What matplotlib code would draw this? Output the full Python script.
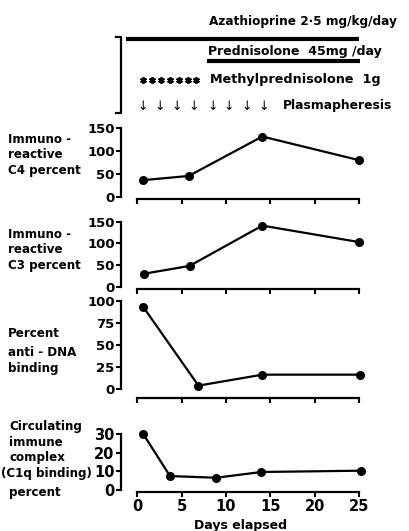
import matplotlib
matplotlib.use('Agg')
import matplotlib.pyplot as plt

# ---------------- data ----------------
c4_days = [0.7, 5.8, 14.1, 25.0]
c4_values = [37, 46, 131, 80]

c3_days = [0.8, 5.9, 14.1, 25.0]
c3_values = [30, 48, 141, 103]

dna_days = [0.7, 6.9, 14.1, 25.1]
dna_values = [93, 3.5, 16, 16]

cic_days = [0.7, 3.7, 8.9, 14.0, 25.2]
cic_values = [30, 7.5, 6.6, 9.7, 10.4]

x_ticks = [0, 5, 10, 15, 20, 25]
c4_yticks = [0, 50, 100, 150]
c3_yticks = [0, 50, 100, 150]
dna_yticks = [0, 25, 50, 75, 100]
cic_yticks = [0, 10, 20, 30]

azathioprine_days = [-1.3, 25.0]
prednisolone_days = [7.9, 25.1]
methylpred_days = [0.7, 1.7, 2.7, 3.7, 4.7, 5.7, 6.6]
plasmapheresis_days = [0.6, 2.5, 4.4, 6.4, 8.5, 10.3, 12.3, 14.3]

# ---------------- layout ----------------
W, H = 409, 531
plt.rcParams['font.family'] = ['DejaVu Sans']
plt.rcParams['font.weight'] = 'bold'
fig = plt.figure(figsize=(W / 100, H / 100), dpi=100)

x0_px, px_per_day = 137.2, 8.874
ax_left_px, ax_right_px = 121, 372
xlim = ((ax_left_px - x0_px) / px_per_day, (ax_right_px - x0_px) / px_per_day)


def add_ax(top_px, bottom_px):
    return fig.add_axes([ax_left_px / W, 1 - bottom_px / H,
                         (ax_right_px - ax_left_px) / W, (bottom_px - top_px) / H])


overlay = fig.add_axes([0, 0, 1, 1])
overlay.set_xlim(0, W)
overlay.set_ylim(H, 0)
overlay.axis('off')

panels = [
    (c4_days, c4_values, c4_yticks, 127.7, 197.3, 1.2, False, 9.5),
    (c3_days, c3_values, c3_yticks, 221.7, 286.7, 1.7, False, 9.5),
    (dna_days, dna_values, dna_yticks, 301.0, 388.7, 7.0, False, 9.5),
    (cic_days, cic_values, cic_yticks, 434.3, 490.0, 1.2, True, 10.5),
]

for days, vals, yt, top, bot, off, last, ysize in panels:
    ax = add_ax(top, bot)
    ax.patch.set_alpha(0)
    ax.plot(days, vals, '-o', color='black', lw=1.6, ms=5.5, clip_on=False, zorder=5)
    ax.set_xlim(xlim)
    ax.set_ylim(0, yt[-1])
    for s in ('top', 'right'):
        ax.spines[s].set_visible(False)
    ax.spines['left'].set_bounds(0, yt[-1])
    ax.spines['bottom'].set_bounds(x_ticks[0], x_ticks[-1])
    ax.spines['bottom'].set_position(('outward', off))
    ax.spines['left'].set_linewidth(1.6)
    ax.spines['bottom'].set_linewidth(1.6)
    ax.set_yticks(yt)
    ax.set_xticks(x_ticks)
    ax.tick_params(axis='y', direction='out', length=3.5, width=1.5, pad=1,
                   labelsize=ysize)
    ax.tick_params(axis='x', direction='out', length=3.5, width=1.5, pad=2,
                   labelsize=10.5, labelbottom=last)
    for lab in ax.get_yticklabels() + ax.get_xticklabels():
        lab.set_fontweight('bold')

# x axis title
overlay.text(240, 524, 'Days elapsed', ha='center', va='center_baseline', fontsize=9)

# left labels
left_labels = [
    ('Immuno -', 8, 138), ('reactive', 8, 153), ('C4 percent', 8, 169),
    ('Immuno -', 8, 233), ('reactive', 8, 248), ('C3 percent', 8, 264),
    ('Percent', 8, 332), ('anti - DNA', 8, 351), ('binding', 8, 367),
    ('Circulating', 9, 425), ('immune', 9, 441), ('complex', 9, 456),
    ('(C1q binding)', 1, 472), ('percent', 9, 491),
]
for txt, x, y in left_labels:
    overlay.text(x, y, txt, ha='left', va='center_baseline', fontsize=8.6)

# ---------------- treatment header ----------------
top_ax = add_ax(0, 120)
top_ax.set_xlim(xlim)
top_ax.set_ylim(120, 0)
top_ax.axis('off')

top_ax.hlines(39, azathioprine_days[0], azathioprine_days[1], color='black', lw=3)
top_ax.hlines(61, prednisolone_days[0], prednisolone_days[1], color='black', lw=3)
top_ax.plot(methylpred_days, [80] * len(methylpred_days), ls='none',
            marker=(6, 2, 0), ms=4.8, mew=1.3, color='black')
for d in plasmapheresis_days:
    top_ax.text(d, 106, '↓', ha='center', va='center', fontsize=9,
                fontweight='normal')

overlay.text(209, 21, 'Azathioprine 2·5 mg/kg/day', ha='left', va='center', fontsize=8.7)
overlay.text(208, 52, 'Prednisolone  45mg /day', ha='left', va='center', fontsize=9.0)
overlay.text(210, 80, 'Methylprednisolone  1g', ha='left', va='center', fontsize=9.2)
overlay.text(283, 106, 'Plasmapheresis', ha='left', va='center', fontsize=8.9)

# bracket
overlay.plot([115.5, 120.7, 120.7, 115.5], [36.7, 36.7, 113, 113], color='black', lw=1.6)

fig.savefig('out.png', dpi=100)
